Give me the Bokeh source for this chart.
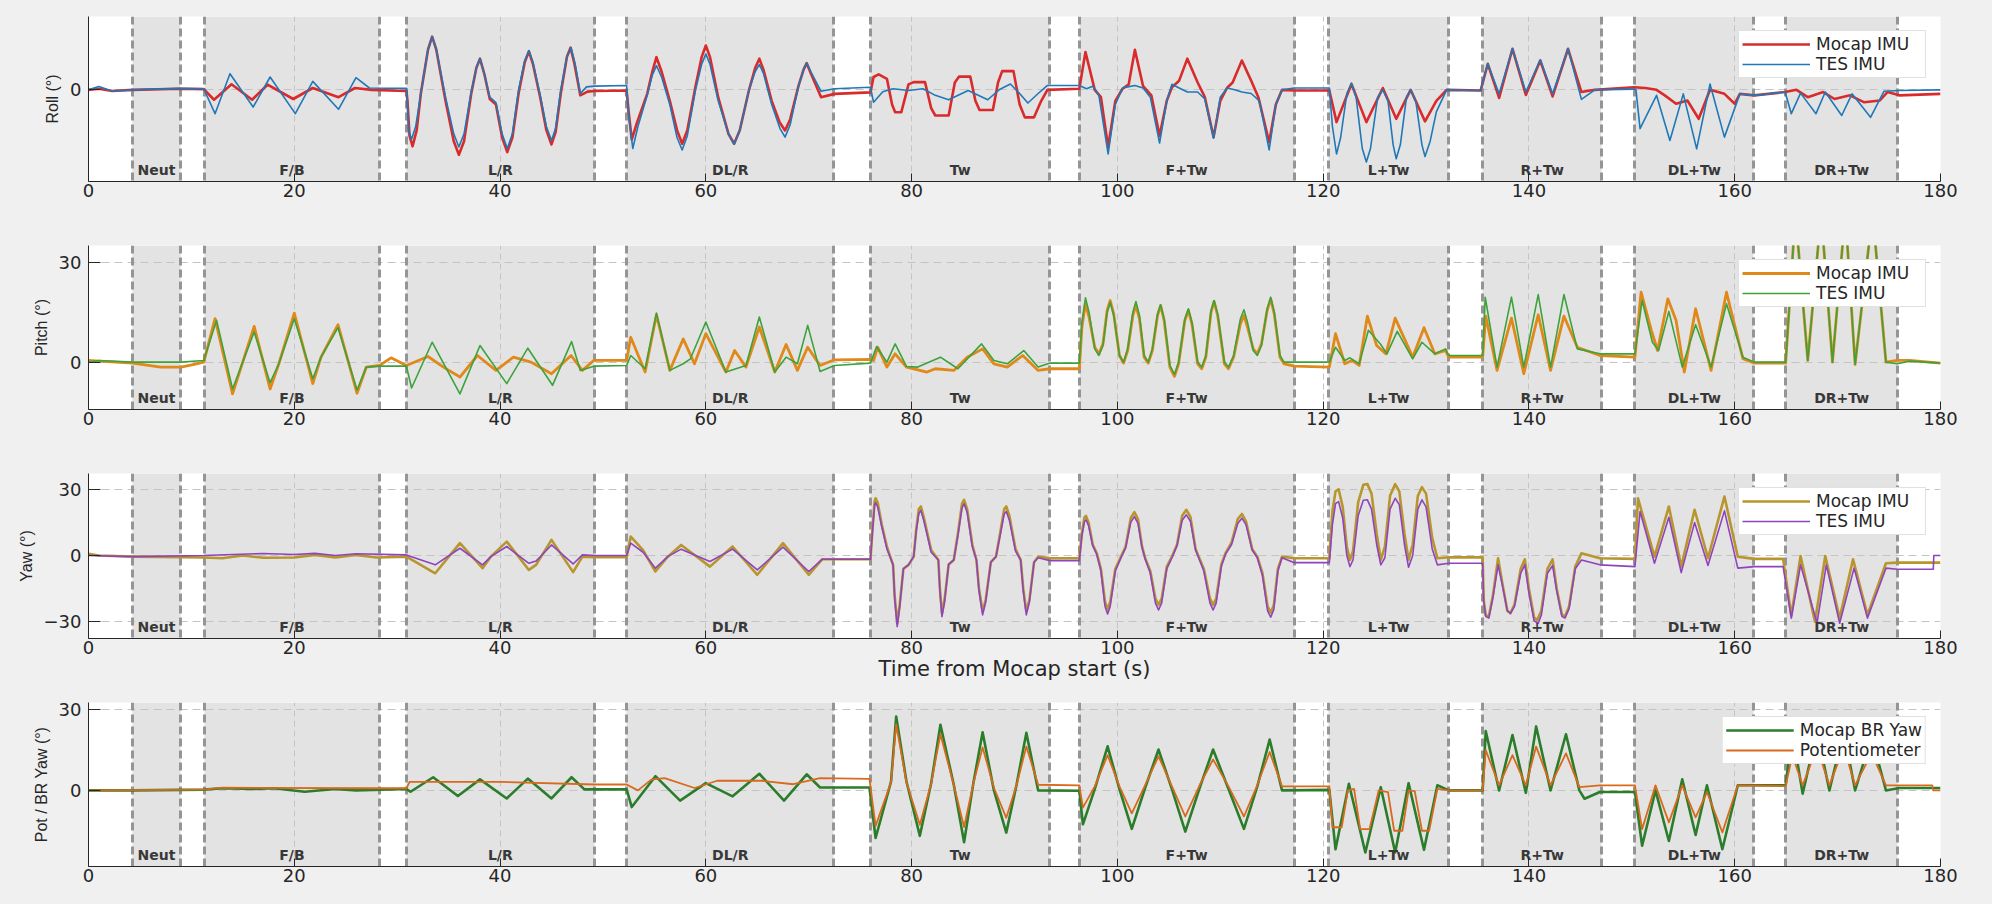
from bokeh.core.properties import value
from bokeh.embed import file_html
from bokeh.layouts import column
from bokeh.models import Legend, LegendItem, Range1d
from bokeh.plotting import figure
from bokeh.resources import INLINE

# movement phases (s)
phase_names = ["Neut", "F/B", "L/R", "DL/R", "Tw", "F+Tw", "L+Tw", "R+Tw", "DL+Tw", "DR+Tw"]
phase_start = [4.3, 11.24, 30.9, 52.3, 76.0, 96.27, 120.56, 135.5, 150.28, 164.95]
phase_end = [8.9, 28.3, 49.15, 72.45, 93.45, 117.2, 132.15, 147.07, 161.86, 175.84]

x_ticks = [0, 20, 40, 60, 80, 100, 120, 140, 160, 180]

# (time s, angle deg)
roll_mocap = [
    (0, 0), (1.0, 0.3), (2.3, -0.3), (4.3, 0), (8.9, 0.3), (11.2, 0.2),
    (12.2, -2.7), (13.9, 1.5), (15.9, -2.7), (17.4, 1.4), (19.9, -2.5), (21.8, 0.5), (24.3, -2.0), (25.9, 0.5), (27.5, 0), (30.9, -0.3),
    (31.0, -3.0), (31.2, -12.5), (31.5, -15.4), (31.9, -11.0), (32.3, -1.0), (33.0, 11.0), (33.4, 14.5), (33.8, 11.0), (34.7, -3.0), (35.5, -14.0),
    (36.0, -17.7), (36.5, -14.0), (37.2, -1.0), (37.7, 6.0), (38.05, 8.5), (38.5, 4.0), (39.0, -2.5), (39.6, -4.0), (40.2, -13.0), (40.7, -17.0),
    (41.2, -13.0), (41.8, -1.0), (42.4, 7.5), (42.8, 10.5), (43.2, 7.0), (43.9, -2.0), (44.5, -11.0), (45.0, -14.9), (45.4, -11.5), (45.9, -1.0),
    (46.5, 9.0), (46.85, 11.5), (47.2, 7.5), (47.8, -1.5), (48.5, -0.5), (49.2, -0.3), (52.3, -0.2),
    (52.5, -6.0), (52.8, -13.6), (53.3, -9.0), (54.3, -1.1), (54.8, 5.0), (55.2, 8.9), (55.7, 5.0), (56.5, -3.0), (57.2, -11.0), (57.7, -14.7),
    (58.2, -11.0), (59.0, 1.0), (59.6, 9.0), (60.0, 12.1), (60.4, 9.0), (61.2, -2.0), (62.2, -12.0), (62.75, -14.7), (63.3, -11.0), (64.2, 0),
    (64.8, 6.0), (65.2, 8.5), (65.6, 5.5), (66.4, -3.0), (67.2, -9.0), (67.7, -11.1), (68.2, -8.0), (69.0, 1.0), (69.5, 5.5), (69.8, 7.3), (70.2, 4.5),
    (71.2, -2.0), (72.5, -1.1), (76.0, -0.7),
    (76.3, 3.5), (76.8, 4.2), (77.6, 3.0), (78.1, -4.0), (78.4, -6.1), (79.0, -6.1), (79.7, 1.5), (80.2, 2.1), (81.3, 2.1), (81.9, -5.0), (82.3, -7.0), (83.6, -7.0),
    (84.2, 2.0), (84.6, 3.6), (85.7, 3.6), (86.2, -3.0), (86.6, -5.5), (87.9, -5.5), (88.4, 2.0), (88.8, 5.1), (89.9, 5.1), (90.5, -4.0), (91.0, -7.5), (91.9, -7.5),
    (92.6, -3.0), (93.2, 0.0), (96.3, 0.3),
    (96.9, 10.3), (97.8, 0), (98.4, -2.0), (99.1, -15.6), (99.8, -3.0), (100.5, 0.3), (101.1, 1.5), (101.7, 10.9), (102.5, 1.0), (103.3, -1.5), (104.1, -12.5),
    (104.8, -3.0), (105.3, 0.7), (106.0, 2.5), (106.8, 8.5), (107.8, 2.0), (108.5, -2.0), (109.35, -12.9), (110.0, -3.0), (110.65, 0.5), (111.2, 2.0), (112.1, 8.0),
    (113.0, 2.5), (113.7, -2.0), (114.75, -14.3), (115.4, -4.0), (116.0, 0), (117.2, -0.2), (120.6, -0.2),
    (121.3, -8.8), (122.75, 1.6), (124.2, -8.8), (125.8, 0.5), (127.1, -7.9), (128.5, 0), (129.9, -8.6), (131.0, -3.0), (132.0, 0), (135.3, -0.2),
    (136.0, 7.1), (137.1, -2.2), (138.4, 11.2), (139.7, -1.4), (141.1, 8.0), (142.3, -1.8), (143.8, 11.2), (145.1, -0.6), (146.4, 0), (150.2, 0.7),
    (151.3, 0.5), (152.4, 0), (153.2, -1.5), (154.3, -3.8), (155.4, -2.9), (156.5, -7.9), (157.6, 0), (159.0, -1.1), (160.0, -3.8), (160.5, -1.1), (161.9, -1.5), (164.9, -0.6),
    (166.0, 0), (167.1, -2.0), (168.6, -0.6), (169.7, -2.5), (171.2, -1.5), (172.6, -3.4), (174.1, -2.9), (174.85, -0.6), (176.0, -1.5), (180.0, -1.1),
]
roll_tes = [
    (0, 0), (1.0, 0.9), (2.3, -0.3), (4.3, 0), (8.9, 0.4), (11.2, 0.3),
    (12.3, -6.5), (13.75, 4.4), (16.0, -4.7), (17.65, 3.5), (20.1, -6.5), (21.8, 2.3), (24.3, -5.3), (26.0, 3.3), (27.3, 0.5), (30.9, 0.4),
    (31.0, -3.0), (31.1, -11.0), (31.4, -13.5), (31.8, -10.0), (32.3, -1.0), (33.0, 11.0), (33.4, 14.5), (33.8, 11.0), (34.7, -2.0), (35.5, -12.0),
    (36.0, -15.6), (36.5, -12.0), (37.2, -0.5), (37.7, 6.0), (38.05, 8.5), (38.5, 4.0), (39.0, -2.0), (39.6, -3.5), (40.2, -12.0), (40.7, -16.0),
    (41.2, -12.0), (41.8, 0), (42.4, 8.0), (42.8, 10.7), (43.2, 7.5), (43.9, -1.5), (44.5, -10.0), (45.0, -13.8), (45.4, -10.5), (45.9, 0),
    (46.5, 9.0), (46.9, 11.5), (47.3, 7.0), (47.8, -1.0), (48.4, 0.8), (49.2, 1.0), (52.3, 1.2),
    (52.5, -7.0), (52.9, -16.0), (53.4, -10.0), (54.3, -1.5), (54.8, 4.0), (55.2, 6.6), (55.7, 3.5), (56.5, -4.0), (57.2, -13.0), (57.7, -16.4),
    (58.2, -12.5), (59.0, 0), (59.6, 7.0), (60.0, 9.8), (60.4, 7.0), (61.2, -3.0), (62.2, -12.0), (62.75, -14.9), (63.3, -11.0), (64.2, 0),
    (64.8, 5.0), (65.2, 6.9), (65.6, 4.5), (66.4, -4.0), (67.2, -10.5), (67.7, -12.9), (68.2, -9.5), (69.0, 1.0), (69.5, 5.5), (69.8, 7.3), (70.2, 5.0),
    (71.2, -0.4), (72.5, 0.3), (76.0, 0.7),
    (76.3, -3.4), (77.2, -0.5), (78.2, 0.3), (79.7, -0.2), (81.1, 0.3), (82.3, -1.5), (83.6, -2.7), (85.5, -0.2), (87.4, -2.7), (88.5, 0), (89.6, 1.6), (90.5, -1.0),
    (91.3, -3.6), (92.3, -1.0), (93.2, 1.2), (96.3, 1.2),
    (97.0, 0.3), (97.6, 1.0), (98.2, -1.5), (99.1, -17.5), (99.8, -4.0), (100.5, 0.5), (101.0, 0.8), (101.7, 1.2), (102.5, 0.5), (103.2, -2.0), (104.1, -14.5),
    (104.8, -3.0), (105.3, 1.5), (106.0, 0.5), (106.8, -0.6), (107.8, -0.6), (108.5, -2.5), (109.35, -13.2), (110.0, -2.0), (110.65, 0.5), (111.4, 0), (112.1, -0.6),
    (113.0, -1.0), (113.8, -3.0), (114.75, -16.4), (115.4, -4.0), (116.0, 0), (117.2, 0.5), (120.6, 0.5),
    (120.9, -10.0), (121.3, -17.5), (121.7, -13.0), (122.3, -1.0), (122.75, 1.8), (123.2, -2.0), (123.8, -16.0), (124.2, -19.7), (124.6, -16.0),
    (125.3, -2.0), (125.8, 0), (126.3, -3.0), (126.8, -15.0), (127.1, -18.8), (127.5, -15.0), (128.1, -2.0), (128.5, 0), (129.0, -3.0), (129.6, -15.0),
    (129.9, -18.2), (130.4, -14.0), (131.0, -6.0), (132.0, 0), (135.3, -0.2),
    (136.0, 7.1), (137.1, -1.1), (138.4, 11.2), (139.7, -0.6), (141.1, 8.2), (142.3, -1.1), (143.8, 11.2), (145.1, -2.6), (146.4, 0), (150.2, 0.2),
    (150.4, 0), (150.8, -10.6), (152.4, -1.5), (153.7, -13.8), (155.0, -1.1), (156.3, -16.1), (157.6, 1.6), (159.0, -12.9), (160.5, -1.1), (162.0, -1.5), (164.9, -0.6),
    (165.5, -6.5), (166.4, -0.9), (167.9, -6.5), (168.8, -0.6), (170.4, -7.0), (171.4, -1.1), (173.2, -7.5), (174.5, -0.4), (176.0, -0.2), (180.0, 0),
]

pitch_mocap = [
    (0, 0.5), (1.0, 0.3), (4.3, -0.3), (7.0, -1.5), (9.0, -1.5), (10.5, -0.5), (11.2, 0),
    (12.3, 13.1), (14.0, -9.6), (16.1, 10.8), (17.65, -8.1), (18.5, -0.5), (20.0, 14.8), (21.8, -6.5), (22.6, 1.5), (24.25, 11.3), (26.1, -9.4), (27.0, -1.5),
    (28.3, -1.0), (29.4, 1.3), (30.9, -1.0),
    (33.0, 1.7), (34.5, -1.5), (36.1, -4.5), (37.8, 2.0), (39.6, -2.5), (41.3, 1.5), (43.0, 0), (45.0, -3.5), (46.9, 2.0), (48.0, -2.5), (49.1, 0.5), (52.3, 0.5),
    (52.7, 7.5), (54.1, -3.0), (55.2, 14.3), (56.5, -2.5), (57.8, 7.0), (58.9, -0.5), (60.0, 8.6), (61.95, -3.0), (62.8, 3.5), (63.9, -1.5), (65.2, 10.6), (66.7, -3.0),
    (67.8, 5.3), (68.9, -2.5), (69.9, 4.5), (71.1, -1.0), (72.5, 0.7), (76.0, 0.8),
    (76.3, 0.5), (76.7, 4.5), (77.6, -1.5), (78.4, 2.5), (79.5, -1.5), (81.5, -3.0), (82.3, -2.0), (84.1, -2.5), (85.4, 1.5), (86.9, 4.0), (88.0, -0.5), (89.3, -1.5),
    (90.8, 2.0), (92.3, -2.5), (93.45, -2.0), (96.3, -2.0),
    (96.55, 10.5), (96.9, 17.6), (97.25, 13.5), (97.8, 4.5), (98.2, 2.5), (98.6, 5.5), (99.0, 15.5), (99.3, 18.6), (99.65, 14.5), (100.2, 2.0), (100.6, -0.3),
    (101.0, 3.5), (101.5, 14.0), (101.8, 17.1), (102.15, 13.0), (102.6, 1.5), (103.0, -0.3), (103.4, 3.5), (103.9, 14.0), (104.2, 17.1), (104.55, 12.5),
    (105.1, -1.5), (105.55, -4.3), (105.95, -0.5), (106.55, 12.5), (106.9, 15.6), (107.25, 11.5), (107.8, -0.5), (108.2, -2.0), (108.6, 1.5), (109.1, 15.0),
    (109.4, 18.3), (109.75, 14.0), (110.4, -0.5), (110.8, -2.0), (111.3, 1.5), (111.95, 11.5), (112.3, 14.1), (112.65, 10.5), (113.2, 4.0), (113.6, 2.5),
    (114.0, 5.5), (114.55, 15.5), (114.9, 19.1), (115.25, 14.5), (115.8, 1.5), (116.2, -0.5), (117.2, -1.2), (120.6, -1.5),
    (121.2, 8.6), (122.1, -0.5), (122.8, 0.5), (123.5, -1.0), (124.3, 13.9), (125.2, 5.0), (126.1, 2.5), (127.0, 13.3), (128.7, 1.5), (129.8, 10.4), (130.85, 2.5),
    (131.9, 3.5), (132.2, 1.5), (135.5, 1.5),
    (135.8, 13.9), (136.9, -2.5), (138.3, 13.3), (139.5, -3.5), (140.9, 14.3), (142.1, -2.5), (143.4, 13.9), (144.7, 4.5), (146.9, 2.0), (150.3, 1.5),
    (150.9, 21.1), (151.9, 9.6), (152.5, 3.5), (153.5, 19.1), (154.3, 12.6), (155.1, -3.0), (156.2, 16.1), (157.7, -2.5), (159.2, 21.1), (160.8, 1.0), (161.9, -0.3),
    (164.95, -0.3),
    (165.9, 45), (167.1, 0.5), (168.4, 45), (169.5, 0), (170.75, 45), (171.7, -0.7), (173.4, 45), (174.7, 0), (175.8, 0.5), (177.0, 0.5), (180.0, -0.3),
]
pitch_tes = [
    (0, 0), (1.0, 0.5), (4.3, 0), (9.0, 0), (11.2, 0.5),
    (12.45, 12.6), (14.0, -8.1), (16.1, 9.1), (17.65, -6.2), (18.5, -0.5), (20.0, 13.1), (21.8, -5.0), (22.6, 1.5), (24.25, 10.4), (26.1, -8.4), (27.0, -1.5),
    (28.3, -1.2), (30.9, -1.2),
    (31.4, -7.8), (33.4, 6.0), (36.1, -9.6), (38.05, 5.0), (40.65, -6.5), (42.7, 4.2), (45.1, -7.0), (46.95, 6.2), (47.8, -2.5), (49.2, -1.2), (52.3, -1.0),
    (52.7, 2.0), (54.1, -2.0), (55.2, 14.8), (56.5, -2.5), (57.8, -0.5), (58.5, 1.0), (60.0, 12.1), (61.95, -3.0), (63.9, -1.0), (65.2, 13.6), (66.7, -3.0),
    (67.8, 1.5), (68.9, -0.5), (69.9, 11.1), (71.1, -2.8), (72.5, -1.0), (76.0, -0.3),
    (76.6, 4.7), (77.6, 0), (78.4, 5.5), (79.5, -1.3), (80.6, -1.5), (82.8, 1.5), (84.5, -2.0), (86.8, 5.5), (88.0, 0.5), (89.3, -0.5), (90.9, 3.5), (92.3, -1.5),
    (93.45, -0.3), (96.3, -0.3),
    (96.55, 12.0), (96.9, 19.4), (97.25, 15.0), (97.8, 4.0), (98.2, 2.0), (98.6, 5.0), (99.0, 15.0), (99.3, 18.1), (99.65, 14.0), (100.2, 2.0), (100.6, 0),
    (101.0, 4.0), (101.5, 15.0), (101.8, 18.3), (102.15, 14.0), (102.6, 2.0), (103.0, 0), (103.4, 4.0), (103.9, 14.5), (104.2, 17.3), (104.55, 13.0),
    (105.1, -1.0), (105.55, -3.7), (105.95, 0), (106.55, 13.0), (106.9, 16.1), (107.25, 12.0), (107.8, 0), (108.2, -1.5), (108.6, 2.0), (109.1, 15.5),
    (109.4, 18.6), (109.75, 14.5), (110.4, 0), (110.8, -1.5), (111.3, 2.0), (111.95, 13.0), (112.3, 15.8), (112.65, 12.0), (113.2, 3.5), (113.6, 2.0),
    (114.0, 5.0), (114.55, 16.0), (114.9, 19.6), (115.25, 15.0), (115.8, 2.0), (116.2, 0), (120.6, 0),
    (121.2, 4.5), (122.1, 0.5), (122.6, 1.3), (123.5, -0.5), (124.4, 9.6), (125.6, 5.3), (126.2, 2.5), (127.2, 9.3), (128.7, 1.0), (129.6, 6.0), (130.85, 2.5),
    (131.9, 4.0), (132.2, 2.0), (135.5, 2.0),
    (135.75, 19.6), (136.9, -1.5), (138.3, 19.6), (139.5, -1.5), (140.9, 20.4), (142.1, -1.5), (143.4, 20.4), (144.7, 4.0), (146.9, 2.5), (150.3, 2.5),
    (151.0, 18.6), (152.0, 6.0), (152.6, 3.5), (153.6, 15.3), (154.9, -1.5), (156.2, 11.3), (157.7, -1.5), (159.2, 17.6), (160.8, 1.5), (161.9, 0), (164.95, 0),
    (165.9, 45), (167.1, 0.5), (168.4, 45), (169.5, 0), (170.75, 45), (171.7, -0.7), (173.4, 45), (174.7, 0), (175.8, -0.5), (177.0, 0.3), (180.0, -0.3),
]

yaw_mocap = [
    (0, 0.8), (1.0, 0), (4.3, -0.5), (11.2, -0.9), (13.0, -1.2), (15.0, 0), (17.0, -1.0), (20.0, -0.9), (22.0, 0.3), (24.0, -0.9), (26.0, 0.3), (28.0, -0.9),
    (30.9, -0.5),
    (33.7, -8.0), (36.1, 5.6), (38.3, -5.7), (39.1, -0.5), (40.65, 6.3), (42.8, -6.5), (43.5, -4.2), (45.0, 7.1), (47.1, -7.5), (48.0, -0.5), (49.2, -0.7), (52.3, -0.7),
    (52.7, 8.6), (53.9, 2.5), (55.1, -7.2), (56.3, -0.5), (57.6, 4.8), (60.4, -5.0), (62.6, 4.1), (65.0, -8.7), (67.5, 5.6), (70.0, -8.7), (71.3, -1.7), (76.0, -1.7),
    (76.2, 12.0), (76.4, 24.5), (76.5, 25.9), (76.7, 24.0), (77.1, 14.0), (77.6, 4.0), (78.2, -4.2), (78.35, -18.0), (78.6, -30.6), (78.85, -22.0),
    (79.2, -6.0), (79.7, -4.2), (80.2, -0.5), (80.45, 12.0), (80.7, 21.0), (80.9, 22.2), (81.2, 17.0), (81.9, 2.5), (82.6, -2.0), (82.75, -15.0),
    (82.95, -26.1), (83.2, -20.0), (83.6, -4.0), (84.1, -2.0), (84.5, 10.0), (84.9, 23.5), (85.1, 25.2), (85.4, 21.0), (85.9, 5.0), (86.3, -2.0),
    (86.55, -15.0), (86.9, -25.3), (87.2, -20.0), (87.7, -3.0), (88.2, -0.5), (88.6, 10.0), (89.0, 21.0), (89.2, 22.2), (89.5, 18.0), (90.1, 3.0),
    (90.6, -2.0), (90.85, -15.0), (91.15, -25.3), (91.45, -20.0), (91.9, -3.0), (92.3, -0.5), (93.45, -1.2), (96.3, -1.2),
    (96.55, 10.0), (96.8, 17.2), (96.95, 17.9), (97.2, 15.0), (97.6, 5.0), (98.0, 1.0), (98.4, -6.0), (98.8, -21.0), (99.05, -24.3), (99.3, -21.0),
    (99.8, -6.0), (100.35, -0.5), (100.8, 4.0), (101.3, 17.0), (101.65, 19.6), (102.0, 16.5), (102.4, 4.0), (102.7, -1.2), (103.2, -7.0), (103.7, -19.5),
    (104.0, -22.3), (104.3, -19.5), (104.8, -5.0), (105.3, -0.5), (105.8, 5.0), (106.3, 18.0), (106.7, 20.7), (107.1, 17.5), (107.6, 3.0), (107.9, -0.5),
    (108.4, -6.0), (109.0, -19.5), (109.3, -22.3), (109.6, -19.5), (110.1, -4.0), (110.5, 1.0), (111.1, 6.0), (111.7, 16.5), (112.1, 18.8), (112.5, 15.5),
    (113.1, 3.0), (113.6, -0.5), (114.1, -8.0), (114.6, -23.0), (114.9, -25.8), (115.2, -22.5), (115.6, -6.0), (116.0, -0.5), (117.2, -1.2), (120.6, -1.2),
    (120.9, 20.0), (121.2, 29.0), (121.5, 30.0), (121.9, 22.0), (122.3, 4.0), (122.6, -2.0), (122.9, 2.0), (123.4, 24.0), (123.9, 32.0), (124.3, 32.3),
    (124.7, 28.0), (125.2, 10.0), (125.6, -2.0), (126.0, 4.0), (126.5, 27.0), (127.0, 32.3), (127.4, 29.0), (127.9, 10.0), (128.3, -2.0), (128.7, 5.0),
    (129.2, 27.0), (129.6, 30.9), (130.0, 28.0), (130.6, 8.0), (131.1, -1.2), (132.2, -0.8), (135.5, -0.8),
    (135.6, -20.0), (135.8, -27.0), (136.1, -27.6), (136.5, -18.0), (137.0, -1.2), (137.4, -12.0), (137.9, -25.0), (138.2, -26.1), (138.6, -22.0),
    (139.2, -6.0), (139.6, -1.7), (140.0, -15.0), (140.5, -28.0), (140.8, -29.1), (141.2, -25.0), (141.8, -6.0), (142.3, -1.7), (142.7, -15.0),
    (143.2, -26.5), (143.5, -27.6), (143.9, -23.0), (144.5, -5.0), (145.1, 1.0), (146.9, -1.2), (150.3, -1.5),
    (150.6, 25.9), (152.2, -0.5), (153.6, 22.2), (154.8, -5.0), (156.1, 20.7), (157.4, -1.2), (159.0, 26.7), (160.3, -0.5), (161.9, -1.5), (164.7, -1.5),
    (165.5, -27.1), (166.4, -0.2), (167.8, -29.9), (168.8, -0.2), (170.2, -28.3), (171.5, -1.7), (172.9, -26.8), (174.7, -3.5), (175.8, -3.2), (180.0, -3.2),
]
yaw_tes = [
    (0, 0), (4.3, -0.5), (11.2, 0), (14.0, 0.5), (17.0, 0.9), (20.0, 0.5), (22.0, 1.0), (24.0, 0), (26.0, 0.8), (30.9, 0.3),
    (33.7, -4.2), (36.1, 3.3), (38.3, -4.2), (39.1, -0.5), (40.65, 4.1), (42.8, -3.5), (43.5, -2.5), (45.0, 4.8), (47.1, -3.8), (48.0, 0.3), (49.2, 0), (52.3, 0),
    (52.7, 5.6), (53.9, 1.5), (55.1, -5.7), (56.3, -0.5), (57.6, 2.9), (60.4, -2.7), (62.6, 2.9), (65.0, -6.5), (67.5, 3.8), (70.0, -7.2), (71.3, -1.7), (76.0, -1.7),
    (76.2, 11.0), (76.4, 22.5), (76.5, 24.0), (76.7, 22.0), (77.1, 13.0), (77.6, 3.0), (78.2, -4.2), (78.35, -19.0), (78.6, -32.1), (78.85, -23.0),
    (79.2, -6.0), (79.7, -4.2), (80.2, -0.5), (80.45, 11.0), (80.7, 19.0), (80.9, 20.4), (81.2, 15.5), (81.9, 1.5), (82.6, -2.0), (82.75, -16.0),
    (82.95, -27.6), (83.2, -21.0), (83.6, -4.0), (84.1, -2.0), (84.5, 9.0), (84.9, 21.5), (85.1, 23.4), (85.4, 19.5), (85.9, 4.0), (86.3, -2.0),
    (86.55, -16.0), (86.9, -26.8), (87.2, -21.0), (87.7, -3.0), (88.2, -0.5), (88.6, 9.0), (89.0, 18.8), (89.2, 19.9), (89.5, 16.0), (90.1, 2.0),
    (90.6, -2.0), (90.85, -16.0), (91.15, -26.8), (91.45, -21.0), (91.9, -3.0), (92.3, -1.0), (93.45, -2.3), (96.3, -2.3),
    (96.55, 9.0), (96.8, 15.4), (96.95, 16.1), (97.2, 13.5), (97.6, 4.5), (98.0, 0.5), (98.4, -7.0), (98.8, -23.0), (99.05, -26.4), (99.3, -23.0),
    (99.8, -7.0), (100.35, -1.0), (100.8, 3.5), (101.3, 15.0), (101.65, 17.6), (102.0, 14.5), (102.4, 3.5), (102.7, -1.5), (103.2, -8.0), (103.7, -21.5),
    (104.0, -24.6), (104.3, -21.5), (104.8, -6.0), (105.3, -1.0), (105.8, 4.5), (106.3, 16.0), (106.7, 18.4), (107.1, 15.5), (107.6, 2.5), (107.9, -1.0),
    (108.4, -7.0), (109.0, -21.5), (109.3, -24.6), (109.6, -21.5), (110.1, -5.0), (110.5, 0.5), (111.1, 5.0), (111.7, 14.5), (112.1, 16.9), (112.5, 14.0),
    (113.1, 2.5), (113.6, -1.0), (114.1, -9.0), (114.6, -25.0), (114.9, -27.9), (115.2, -24.5), (115.6, -7.0), (116.0, -1.0), (117.2, -3.2), (120.6, -3.2),
    (120.9, 14.0), (121.2, 23.5), (121.5, 24.4), (121.9, 17.0), (122.3, 0), (122.6, -5.0), (122.9, -2.0), (123.4, 18.0), (123.9, 25.0), (124.3, 25.2),
    (124.7, 21.0), (125.2, 5.0), (125.6, -4.2), (126.0, -1.0), (126.5, 21.0), (127.0, 25.9), (127.4, 23.0), (127.9, 5.0), (128.3, -5.3), (128.7, 0),
    (129.2, 21.0), (129.6, 25.2), (130.0, 22.0), (130.6, 3.0), (131.1, -4.2), (132.2, -3.5), (135.5, -3.5),
    (135.6, -21.0), (135.8, -27.5), (136.1, -28.3), (136.5, -19.0), (137.0, -4.2), (137.4, -13.0), (137.9, -25.0), (138.2, -26.1), (138.6, -23.0),
    (139.2, -8.0), (139.6, -4.2), (140.0, -17.0), (140.5, -29.5), (140.9, -30.6), (141.2, -27.0), (141.8, -8.0), (142.3, -4.5), (142.7, -16.0),
    (143.2, -27.5), (143.5, -28.3), (143.9, -24.0), (144.5, -6.0), (145.1, -2.0), (146.9, -4.2), (150.3, -5.0),
    (150.8, 19.9), (152.2, -3.5), (153.6, 17.3), (154.8, -7.7), (156.1, 14.9), (157.4, -4.5), (159.0, 20.2), (160.3, -5.7), (161.9, -5.0), (164.7, -5.0),
    (165.5, -28.3), (166.4, -4.2), (168.0, -30.6), (168.9, -4.2), (170.2, -30.6), (171.6, -5.7), (172.9, -28.3), (174.7, -5.7), (175.8, -6.2), (179.3, -6.2),
    (179.35, 0), (180.0, 0),
]

pot_mocap = [
    (0, 0), (4.3, 0), (11.2, 0.3), (13.0, 0.8), (16.0, 0.5), (18.0, 0.8), (21.0, -0.5), (24.0, 0.5), (26.0, 0), (30.9, 0.5),
    (31.3, -0.5), (33.5, 4.9), (35.9, -2.1), (38.05, 4.1), (40.65, -3.0), (42.7, 4.4), (45.0, -3.0), (46.95, 4.9), (48.2, 0.4), (52.3, 0.4),
    (52.8, -6.2), (55.1, 5.3), (57.5, -3.8), (60.0, 2.7), (62.6, -2.2), (65.2, 6.2), (67.6, -3.8), (69.8, 6.0), (71.1, 1.1), (75.9, 1.1),
    (76.5, -17.7), (78.0, 3.3), (78.5, 27.5), (79.5, 3.3), (80.8, -16.9), (81.9, 2.7), (82.8, 24.4), (84.1, 2.1), (85.1, -19.3), (86.0, 2.7), (86.9, 21.6),
    (88.0, 0), (89.2, -15.7), (90.2, 2.1), (91.15, 21.4), (92.3, 0), (96.3, -0.1),
    (96.65, -12.6), (97.8, 0.5), (99.05, 16.4), (100.2, 0.5), (101.4, -14.3), (102.7, 1.0), (104.0, 15.2), (105.3, 0.5), (106.6, -15.3), (108.0, 1.0),
    (109.3, 15.2), (110.8, 0.5), (112.3, -14.3), (113.6, 1.5), (114.8, 18.9), (116.0, 0), (120.6, 0.2),
    (121.2, -21.9), (122.5, 2.5), (124.1, -23.1), (125.6, 1.2), (127.0, -23.1), (128.3, 2.7), (129.8, -22.1), (131.1, 1.9), (132.2, 0), (135.5, 0),
    (135.8, 22.1), (137.1, 0), (138.4, 20.6), (139.7, -0.9), (140.7, 23.8), (142.1, 0), (143.6, 20.9), (144.9, 0), (145.4, -3.1), (146.9, -0.6), (150.3, -0.6),
    (151.0, -20.6), (152.3, 0), (153.6, -18.8), (154.9, 4.1), (156.2, -16.6), (157.3, 1.9), (158.8, -21.9), (160.3, 1.9), (164.95, 1.9),
    (165.6, 22.0), (166.6, -1.2), (168.0, 22.0), (169.2, 0), (170.6, 22.0), (171.7, 0), (173.3, 20.0), (174.7, 0), (176.0, 0.9), (180.0, 0.9),
]
pot_pot = [
    (0, 0), (11.2, 0.3), (13.0, 1.0), (28.0, 0.8), (30.9, 0.8), (31.2, 3.2), (40.0, 3.2), (49.2, 2.2), (52.3, 2.2), (53.4, 0), (54.7, 4.0), (56.0, 4.6),
    (58.9, 0.9), (61.1, 3.6), (65.4, 3.6), (68.5, 2.3), (71.1, 4.6), (75.9, 4.3),
    (76.5, -13.2), (78.0, 3.0), (78.5, 24.6), (79.5, 3.0), (80.8, -12.8), (81.9, 2.5), (82.8, 20.9), (84.1, 2.0), (85.1, -13.6), (86.0, 2.5), (86.9, 16.0),
    (88.0, 1.0), (89.2, -10.2), (90.2, 2.0), (91.15, 16.3), (92.3, 2.1), (96.3, 1.9),
    (96.65, -6.4), (97.8, 1.5), (99.05, 13.1), (100.2, 1.5), (101.4, -8.5), (102.7, 2.0), (104.0, 12.7), (105.3, 1.5), (106.6, -9.7), (108.0, 2.0),
    (109.3, 11.5), (110.8, 1.5), (112.3, -9.7), (113.6, 2.0), (114.8, 14.3), (116.0, 1.5), (120.6, 1.5),
    (120.9, -13.7), (121.8, -13.7), (122.4, 0), (123.0, 0.6), (123.6, -14.4), (124.5, -14.4), (125.4, 0), (126.3, -0.6), (126.9, -15.0), (127.7, -15.0),
    (128.3, 0), (128.9, -0.3), (129.6, -15.0), (130.3, -15.0), (131.1, 0.6), (132.2, 0), (135.5, 0),
    (135.8, 15.0), (137.1, 1.9), (138.4, 13.1), (139.7, 1.9), (140.7, 16.3), (142.1, 1.9), (143.6, 13.8), (144.9, 1.2), (146.9, 1.9), (150.3, 1.9),
    (151.0, -14.4), (152.3, 1.9), (153.6, -11.9), (154.9, 1.9), (156.2, -10.0), (157.3, -0.6), (158.8, -15.6), (160.3, 1.9), (164.95, 1.6),
    (165.6, 13.1), (166.6, 1.9), (168.0, 15.9), (169.2, 1.9), (170.6, 15.9), (171.7, 1.9), (173.3, 13.8), (174.7, 1.9), (179.2, 1.9), (179.3, 0), (180.0, 0),
]

TICK_FONT = "DejaVu Sans"
AX_COLOR = "#262626"


def panel(ylabel, yrange, yticks, series, height, top, bottom, xlabel=None):
    p = figure(width=1992, height=height, x_range=Range1d(0, 180), y_range=Range1d(*yrange),
               output_backend="svg", toolbar_location=None, title=None,
               min_border_left=88, min_border_right=52, min_border_top=top, min_border_bottom=bottom)
    p.border_fill_color = "#f0f0f0"
    p.background_fill_color = "white"
    p.outline_line_color = None

    # shaded phases + dashed boundaries
    p.vstrip(x0=phase_start, x1=phase_end, fill_color="#e3e3e3", line_color=None, level="image")
    p.vspan(x=phase_start + phase_end, line_color="#959595", line_width=3, line_dash="8 4")

    items = []
    for pts, label, color, lw in series:
        r = p.line([a for a, _ in pts], [b for _, b in pts], line_color=color, line_width=lw, line_join="round")
        items.append(LegendItem(label=label, renderers=[r]))

    mids = [(a + b) / 2 for a, b in zip(phase_start, phase_end)]
    p.text(x=mids, y=[yrange[0]] * len(mids), text=phase_names, text_align="center", text_baseline="middle",
           y_offset=-12, text_font=value(TICK_FONT), text_font_style="bold", text_font_size="14px", text_color="#383838")

    p.xaxis.ticker = x_ticks
    p.yaxis.ticker = yticks
    for ax in (p.xaxis, p.yaxis):
        ax.axis_line_color = AX_COLOR
        ax.major_tick_line_color = AX_COLOR
        ax.minor_tick_line_color = None
        ax.major_tick_out = 0
        ax.major_label_text_font = TICK_FONT
        ax.major_label_text_font_size = "18px"
        ax.major_label_text_color = AX_COLOR
    p.xaxis.major_tick_in = 8
    p.yaxis.major_tick_in = 12
    p.xaxis.major_label_standoff = 2
    p.yaxis.major_label_standoff = 7
    p.yaxis.axis_label = ylabel
    p.yaxis.axis_label_text_font = "Liberation Sans"
    p.yaxis.axis_label_text_font_size = "16px"
    p.yaxis.axis_label_text_font_style = "normal"
    p.yaxis.axis_label_text_color = AX_COLOR
    p.yaxis.axis_label_standoff = 6
    if xlabel:
        p.xaxis.axis_label = xlabel
        p.xaxis.axis_label_text_font = TICK_FONT
        p.xaxis.axis_label_text_font_size = "21px"
        p.xaxis.axis_label_text_font_style = "normal"
        p.xaxis.axis_label_text_color = AX_COLOR
        p.xaxis.axis_label_standoff = 0

    p.xgrid.ticker = x_ticks
    p.ygrid.ticker = yticks
    p.xgrid.grid_line_color = "#c4c4c4"
    p.xgrid.grid_line_dash = "6 4"
    p.ygrid.grid_line_color = "#c4c4c4"
    p.ygrid.grid_line_dash = "8 5"

    leg = Legend(items=items, location="top_right", margin=14, padding=3, spacing=0,
                 glyph_width=68, glyph_height=10, label_height=10, label_standoff=6, label_width=106,
                 label_text_font=TICK_FONT, label_text_font_size="17px", label_text_color=AX_COLOR,
                 label_text_line_height=0.8,
                 background_fill_color="white", background_fill_alpha=1.0,
                 border_line_color="#c4c4c4", border_line_width=1)
    p.add_layout(leg)
    return p


p1 = panel("Roll (°)", (-25, 20), [0],
           [(roll_mocap, "Mocap IMU", "#d92b2b", 2.6), (roll_tes, "TES IMU", "#1f78b8", 1.6)], 222, 16, 41)
p2 = panel("Pitch (°)", (-14.3, 35.2), [0, 30],
           [(pitch_mocap, "Mocap IMU", "#e0891a", 2.8), (pitch_tes, "TES IMU", "#3ca33c", 1.6)], 230, 23, 43)
p3 = panel("Yaw (°)", (-37.5, 37.1), [-30, 0, 30],
           [(yaw_mocap, "Mocap IMU", "#b8962e", 2.6), (yaw_tes, "TES IMU", "#8f44bd", 1.6)], 238, 21, 52,
           xlabel="Time from Mocap start (s)")
p4 = panel("Pot / BR Yaw (°)", (-28.3, 32.7), [0, 30],
           [(pot_mocap, "Mocap BR Yaw", "#2b7d2b", 2.6), (pot_pot, "Potentiometer", "#d86a1e", 1.8)], 214, 12, 38)

layout = column(p1, p2, p3, p4, spacing=0)
layout.styles = {"background-color": "#f0f0f0"}

open("out.html", "w").write(file_html(layout, INLINE))
